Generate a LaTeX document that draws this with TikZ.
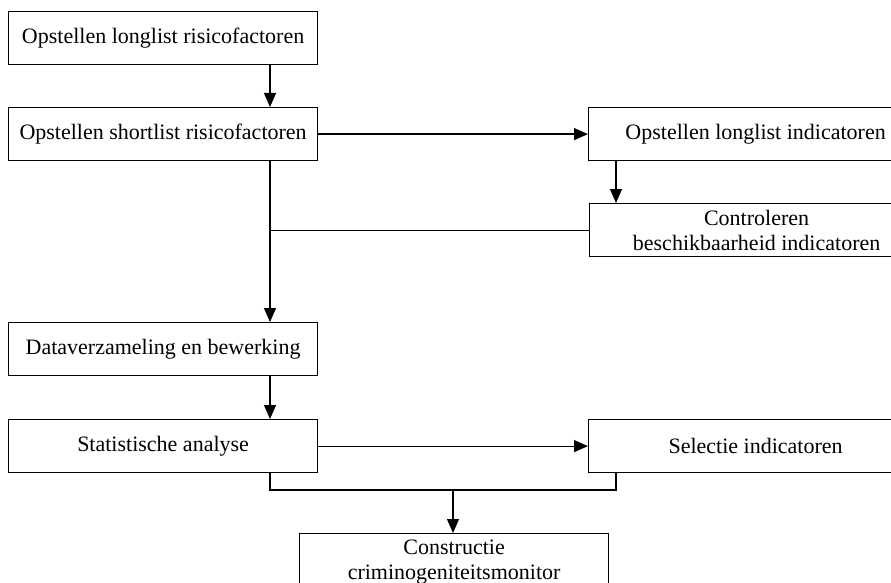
\documentclass[tikz,border=0pt]{standalone}
\usepackage{fontspec}
\setmainfont{Liberation Serif}
\usetikzlibrary{arrows.meta}
\begin{document}
\begin{tikzpicture}[x=1pt,y=-1pt,
  box/.style={draw, line width=1.2pt, minimum height=53pt, font=\fontsize{22}{25}\selectfont, inner sep=0pt, align=center, anchor=north west},
  arr/.style={-{Triangle[width=12pt,length=14pt]}, line width=1.2pt},
  ln/.style={line width=1.2pt}]
\useasboundingbox (0,0) rectangle (891,583);
\node[box, minimum width=309pt] (b1) at (8,11) {Opstellen longlist risicofactoren};
\node[box, minimum width=309pt] (b2) at (8,107) {Opstellen shortlist risicofactoren};
\node[box, minimum width=334pt] (r1) at (588,107) {Opstellen longlist indicatoren};
\node[box, minimum width=334pt] (r2) at (589,203) {Controleren\\beschikbaarheid indicatoren};
\node[box, minimum width=309pt] (d) at (8,322) {Dataverzameling en bewerking};
\node[box, minimum width=309pt] (s) at (8,419) {Statistische analyse};
\node[box, minimum width=334pt] (sel) at (588,419) {Selectie indicatoren};
\node[box, minimum width=309pt, minimum height=56pt] (c) at (299,533) {Constructie\\criminogeniteitsmonitor};
\coordinate (cx) at (270,0);
\coordinate (rx) at (616,0);
\coordinate (mx) at (453,0);
\coordinate (jy) at (0,490);
\draw[arr] (b1.south -| cx) -- (b2.north -| cx);
\draw[arr] (b2.east) -- (r1.west);
\draw[arr] (r1.south -| rx) -- (r2.north -| rx);
\draw[arr] (b2.south -| cx) -- (d.north -| cx);
\draw[ln] (r2.west) -- (r2.west -| cx);
\draw[arr] (d.south -| cx) -- (s.north -| cx);
\draw[arr] (s.east) -- (sel.west);
\draw[ln] (s.south -| cx) |- (jy -| rx) -- (sel.south -| rx);
\draw[arr] (jy -| mx) -- (c.north -| mx);
\end{tikzpicture}
\end{document}
